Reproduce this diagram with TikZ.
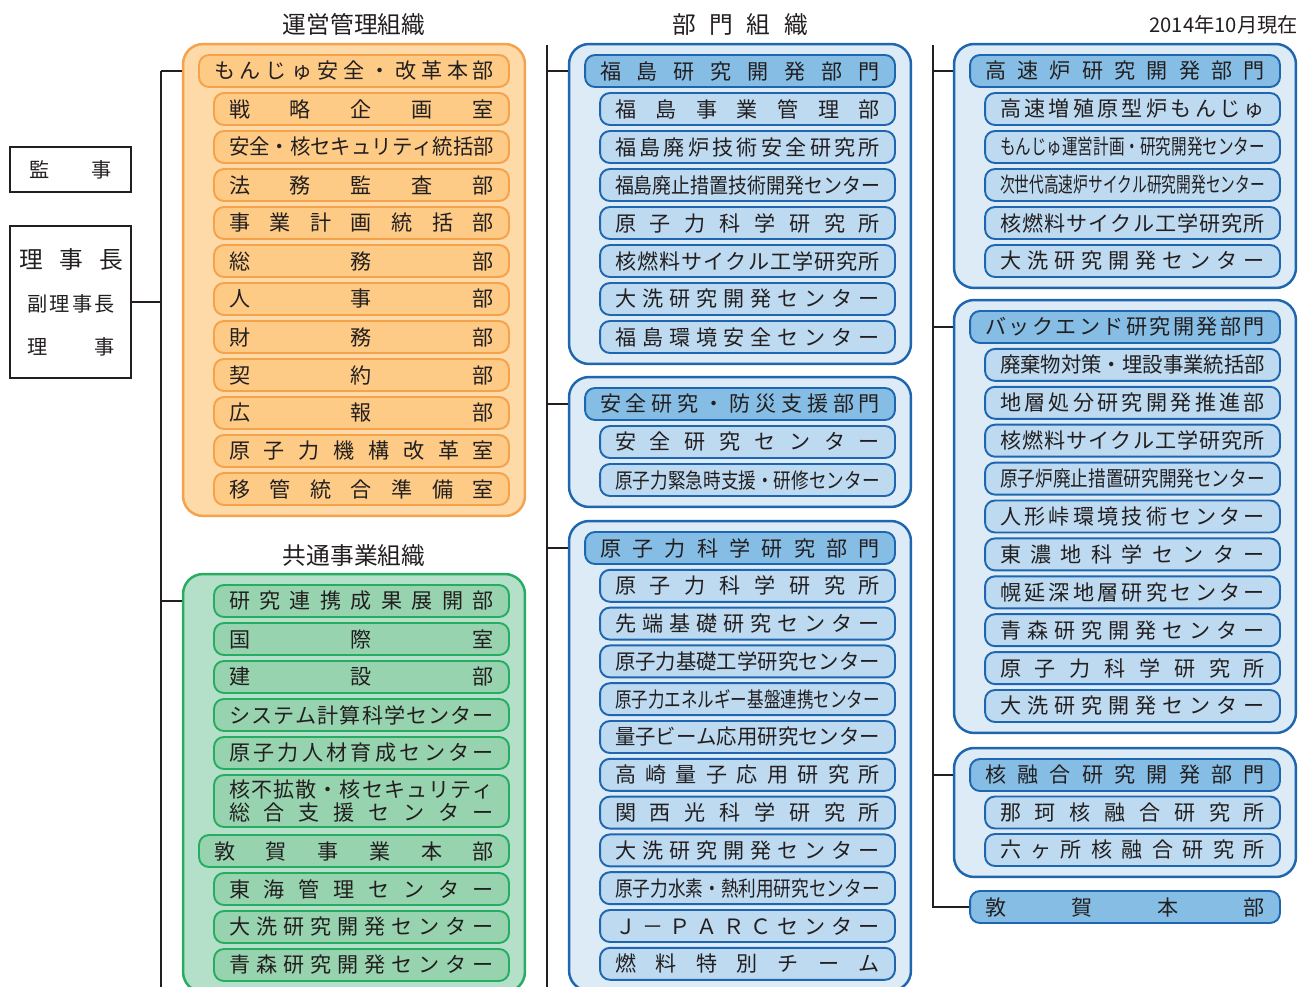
\documentclass[tikz,border=0pt]{standalone}
\usepackage{fontspec}
\usepackage{graphicx}
\newfontfamily\jpfont{Noto Sans CJK JP}
\usetikzlibrary{fit,backgrounds}

\definecolor{ink}{HTML}{231F20}
\definecolor{opsline}{HTML}{F5A24B}
\definecolor{opsouter}{HTML}{FEDAA8}
\definecolor{opsinner}{HTML}{FDCB85}
\definecolor{comline}{HTML}{26AD62}
\definecolor{comouter}{HTML}{B4DFC9}
\definecolor{cominner}{HTML}{98D3AF}
\definecolor{divline}{HTML}{1E67B0}
\definecolor{divouter}{HTML}{DDEBF7}
\definecolor{divinner}{HTML}{BDDAF1}
\definecolor{divhead}{HTML}{86BDE5}

% spread the characters of a label over a given width (squeeze if too long)
\makeatletter
\def\sp@first#1{#1\sp@rest}
\def\sp@rest#1{\ifx\relax#1\else\hfill#1\expandafter\sp@rest\fi}
\newcommand\fitline[2]{%
  \edef\fl@text{#2}%
  \setbox0=\hbox{\expandafter\sp@first\fl@text\relax}%
  \ifdim\wd0>#1\relax
    \resizebox{#1}{\height}{\box0}%
  \else
    \hbox to #1{\expandafter\sp@first\fl@text\relax}%
  \fi}
\makeatother

\tikzset{
  link/.style={draw=ink, line width=1.1pt},
  plainbox/.style={draw=ink, line width=1.1pt, inner sep=0pt, text=ink,
    font=\jpfont\fontsize{11.5}{13}\selectfont},
  officer/.style={inner sep=0pt, text=ink, font=\jpfont\fontsize{11.5}{13}\selectfont},
  title/.style={inner sep=0pt, text=ink, font=\jpfont\fontsize{13.5}{15}\selectfont},
  unit/.style={rounded corners=0.2cm, line width=1.1pt, inner sep=0pt,
    minimum height=0.64cm, text=ink, font=\jpfont\fontsize{12}{14}\selectfont},
  child/.style={unit, minimum width=5.9cm},
  head/.style={unit, minimum width=6.2cm},
  opsunit/.style={fill=opsinner, draw=opsline},
  comunit/.style={fill=cominner, draw=comline},
  divunit/.style={fill=divinner, draw=divline},
  divheadunit/.style={fill=divhead, draw=divline},
  group/.style={rounded corners=0.4cm, line width=1.4pt, inner xsep=0.3cm, inner ysep=0.2cm},
}

\begin{document}
\begin{tikzpicture}[x=0.02cm, y=-0.02cm]
  \useasboundingbox (0,0) rectangle (1299,987);

  % column titles
  \node[title] (title-ops) at (354,25) {運営管理組織};
  \node[title] (title-div) at (740,25) {\fitline{2.72cm}{部門組織}};
  \node[title, anchor=east, font=\jpfont\fontsize{11.5}{13}\selectfont] (title-date) at (1298,25) {2014年10月現在};
  \node[title] (title-common) at (354,556) {共通事業組織};

  % officers
  \node[plainbox, minimum width=2.42cm, minimum height=0.9cm] (auditor) at (70.5,169.5) {\fitline{1.64cm}{監事}};
  \node[plainbox, minimum width=2.42cm, minimum height=3.04cm] (chair) at (70.5,302) {};
  \node[officer, font=\jpfont\fontsize{13.5}{15}\selectfont] (chair-1) at (71,260) {\fitline{2.08cm}{理事長}};
  \node[officer] (chair-2) at (71,304) {\fitline{1.76cm}{副理事長}};
  \node[officer] (chair-3) at (71,347) {\fitline{1.76cm}{理事}};

  % management organisation (orange)
  \node[head, opsunit] (ops-0) at (354,71) {\fitline{5.6cm}{もんじゅ安全・改革本部}};
  \foreach \txt [count=\i] in {戦略企画室, 安全・核セキュリティ統括部, 法務監査部, 事業計画統括部,
      総務部, 人事部, 財務部, 契約部, 広報部, 原子力機構改革室, 移管統合準備室}
    \node[child, opsunit] (ops-\i) at (361.5,71+38*\i) {\fitline{5.3cm}{\txt}};

  % common organisation (green)
  \foreach \txt/\y [count=\i] in {研究連携成果展開部/601, 国際室/639, 建設部/677,
      システム計算科学センター/715, 原子力人材育成センター/753}
    \node[child, comunit] (common-\i) at (361.5,\y) {\fitline{5.3cm}{\txt}};
  \node[child, comunit, minimum height=1.04cm, align=center,
    font=\jpfont\fontsize{12}{13.6}\selectfont] (common-6) at (361.5,801)
    {\fitline{5.3cm}{核不拡散・核セキュリティ}\\\fitline{5.3cm}{総合支援センター}};
  \node[head, comunit] (common-7) at (354,851) {\fitline{5.6cm}{敦賀事業本部}};
  \foreach \txt/\y [count=\i from 8] in {東海管理センター/889, 大洗研究開発センター/927, 青森研究開発センター/965}
    \node[child, comunit] (common-\i) at (361.5,\y) {\fitline{5.3cm}{\txt}};

  % Fukushima division
  \node[head, divheadunit] (fuku-0) at (740,71) {\fitline{5.6cm}{福島研究開発部門}};
  \foreach \txt [count=\i] in {福島事業管理部, 福島廃炉技術安全研究所, 福島廃止措置技術開発センター,
      原子力科学研究所, 核燃料サイクル工学研究所, 大洗研究開発センター, 福島環境安全センター}
    \node[child, divunit] (fuku-\i) at (747.5,71+38*\i) {\fitline{5.3cm}{\txt}};

  % safety research division
  \node[head, divheadunit] (safe-0) at (740,404) {\fitline{5.6cm}{安全研究・防災支援部門}};
  \foreach \txt [count=\i] in {安全研究センター, 原子力緊急時支援・研修センター}
    \node[child, divunit] (safe-\i) at (747.5,404+38*\i) {\fitline{5.3cm}{\txt}};

  % nuclear science division
  \node[head, divheadunit] (sci-0) at (740,548) {\fitline{5.6cm}{原子力科学研究部門}};
  \foreach \txt [count=\i] in {原子力科学研究所, 先端基礎研究センター, 原子力基礎工学研究センター,
      原子力エネルギー基盤連携センター, 量子ビーム応用研究センター, 高崎量子応用研究所,
      関西光科学研究所, 大洗研究開発センター, 原子力水素・熱利用研究センター,
      Ｊ－ＰＡＲＣセンター, 燃料特別チーム}
    \node[child, divunit] (sci-\i) at (747.5,548+37.8*\i) {\fitline{5.3cm}{\txt}};

  % fast reactor division
  \node[head, divheadunit] (fast-0) at (1125,71) {\fitline{5.6cm}{高速炉研究開発部門}};
  \foreach \txt [count=\i] in {高速増殖原型炉もんじゅ, もんじゅ運営計画・研究開発センター,
      次世代高速炉サイクル研究開発センター, 核燃料サイクル工学研究所, 大洗研究開発センター}
    \node[child, divunit] (fast-\i) at (1132.5,71+38*\i) {\fitline{5.3cm}{\txt}};

  % back-end division
  \node[head, divheadunit] (back-0) at (1125,327) {\fitline{5.6cm}{バックエンド研究開発部門}};
  \foreach \txt [count=\i] in {廃棄物対策・埋設事業統括部, 地層処分研究開発推進部, 核燃料サイクル工学研究所,
      原子炉廃止措置研究開発センター, 人形峠環境技術センター, 東濃地科学センター,
      幌延深地層研究センター, 青森研究開発センター, 原子力科学研究所, 大洗研究開発センター}
    \node[child, divunit] (back-\i) at (1132.5,327+37.9*\i) {\fitline{5.3cm}{\txt}};

  % fusion division
  \node[head, divheadunit] (fusion-0) at (1125,775) {\fitline{5.6cm}{核融合研究開発部門}};
  \foreach \txt [count=\i] in {那珂核融合研究所, 六ヶ所核融合研究所}
    \node[child, divunit] (fusion-\i) at (1132.5,775+37.5*\i) {\fitline{5.3cm}{\txt}};

  \node[head, divheadunit] (tsuruga) at (1125,907) {\fitline{5.6cm}{敦賀本部}};

  % group frames
  \begin{scope}[on background layer]
    \node[group, fill=opsouter, draw=opsline, fit=(ops-0)(ops-11)] (opsbox) {};
    \node[group, fill=comouter, draw=comline, fit=(common-1)(common-7)(common-10)] (commonbox) {};
    \node[group, fill=divouter, draw=divline, fit=(fuku-0)(fuku-7)] (fukubox) {};
    \node[group, fill=divouter, draw=divline, fit=(safe-0)(safe-2)] (safebox) {};
    \node[group, fill=divouter, draw=divline, fit=(sci-0)(sci-11)] (scibox) {};
    \node[group, fill=divouter, draw=divline, fit=(fast-0)(fast-5)] (fastbox) {};
    \node[group, fill=divouter, draw=divline, fit=(back-0)(back-10)] (backbox) {};
    \node[group, fill=divouter, draw=divline, fit=(fusion-0)(fusion-2)] (fusionbox) {};
  \end{scope}

  % connectors
  \coordinate (spineL) at (161,71);
  \coordinate (spineL-end) at (161,987);
  \draw[link] (spineL) -- (spineL-end);
  \draw[link] (chair.east) -- (chair.east -| spineL);
  \draw[link] (spineL) -- (opsbox.west |- ops-0);
  \draw[link] (spineL |- common-1) -- (commonbox.west |- common-1);

  \coordinate (spineM) at (547,45);
  \coordinate (spineM-end) at (547,987);
  \draw[link] (spineM) -- (spineM-end);
  \draw[link] (spineM |- fuku-0) -- (fukubox.west |- fuku-0);
  \draw[link] (spineM |- safe-0) -- (safebox.west |- safe-0);
  \draw[link] (spineM |- sci-0) -- (scibox.west |- sci-0);

  \coordinate (spineR) at (933,45);
  \draw[link] (spineR) -- (spineR |- tsuruga) -- (tsuruga.west);
  \draw[link] (spineR |- fast-0) -- (fastbox.west |- fast-0);
  \draw[link] (spineR |- back-0) -- (backbox.west |- back-0);
  \draw[link] (spineR |- fusion-0) -- (fusionbox.west |- fusion-0);
\end{tikzpicture}
\end{document}
